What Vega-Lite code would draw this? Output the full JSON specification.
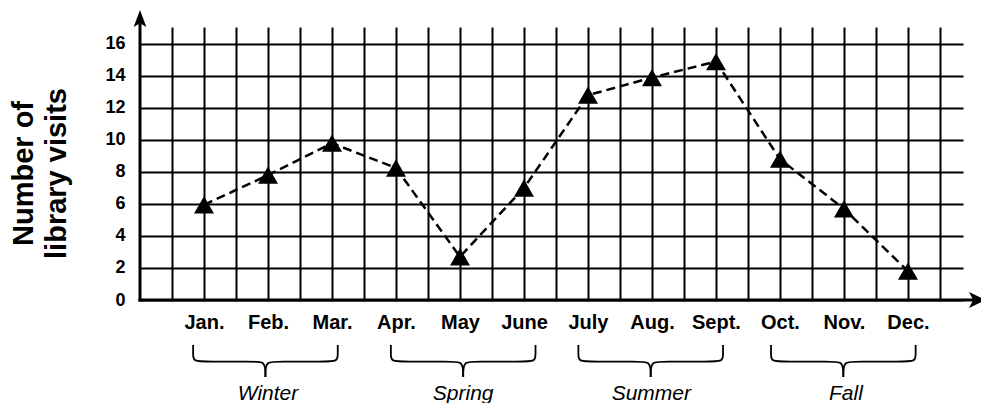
{
  "$schema": "https://vega.github.io/schema/vega-lite/v6.json",
  "width": 823,
  "height": 273,
  "autosize": {"type": "none"},
  "padding": {"left": 140, "top": 27, "right": 18, "bottom": 103},
  "background": "white",
  "config": {
    "view": {"stroke": null},
    "font": "Liberation Sans",
    "axisX": {
      "grid": true, "gridColor": "black", "gridWidth": 2, "gridOpacity": 1,
      "domain": false, "ticks": false, "tickSize": 0,
      "labelFont": "Liberation Sans", "labelFontSize": 20, "labelFontWeight": "bold", "labelColor": "black",
      "labelBaseline": "alphabetic", "labelPadding": 28, "labelOverlap": false, "labelFlush": false, "labelBound": false
    },
    "axisY": {
      "grid": true, "gridColor": "black", "gridWidth": 2, "gridOpacity": 1,
      "domain": false, "ticks": false, "tickSize": 0,
      "labelFont": "Liberation Sans", "labelFontSize": 18, "labelFontWeight": "bold", "labelColor": "black",
      "labelPadding": 15, "labelFlush": false, "labelOverlap": false, "labelBound": false,
      "titleFont": "Liberation Sans", "titleFontSize": 29, "titleFontWeight": "bold", "titleColor": "black",
      "titleAngle": 270, "titleAlign": "center", "titleBaseline": "alphabetic",
      "titleX": -108, "titleY": 146, "titleLineHeight": 33
    }
  },
  "datasets": {
    "visits": [
      {"month": "Jan.", "m": 0, "visits": 5.95},
      {"month": "Feb.", "m": 1, "visits": 7.8},
      {"month": "Mar.", "m": 2, "visits": 9.8},
      {"month": "Apr.", "m": 3, "visits": 8.25},
      {"month": "May", "m": 4, "visits": 2.7},
      {"month": "June", "m": 5, "visits": 7.0},
      {"month": "July", "m": 6, "visits": 12.8},
      {"month": "Aug.", "m": 7, "visits": 13.9},
      {"month": "Sept.", "m": 8, "visits": 14.9},
      {"month": "Oct.", "m": 9, "visits": 8.8},
      {"month": "Nov.", "m": 10, "visits": 5.7},
      {"month": "Dec.", "m": 11, "visits": 1.8}
    ],
    "seasons": [
      {"season": "Winter", "mid": 1.0},
      {"season": "Spring", "mid": 4.05},
      {"season": "Summer", "mid": 6.99},
      {"season": "Fall", "mid": 10.03}
    ],
    "braces": [
      {"b": "WL", "o": 1, "x": -0.17, "y": -2.81},
      {"b": "WL", "o": 2, "x": -0.17, "y": -3.4},
      {"b": "WL", "o": 3, "x": -0.17, "y": -3.85},
      {"b": "WL", "o": 4, "x": 0.05, "y": -3.85},
      {"b": "WL", "o": 5, "x": 0.77, "y": -3.85},
      {"b": "WL", "o": 6, "x": 0.94, "y": -3.85},
      {"b": "WL", "o": 7, "x": 0.96, "y": -4.4},
      {"b": "WL", "o": 8, "x": 0.96, "y": -4.81},
      {"b": "WR", "o": 1, "x": 2.09, "y": -2.81},
      {"b": "WR", "o": 2, "x": 2.09, "y": -3.4},
      {"b": "WR", "o": 3, "x": 2.09, "y": -3.85},
      {"b": "WR", "o": 4, "x": 1.87, "y": -3.85},
      {"b": "WR", "o": 5, "x": 1.15, "y": -3.85},
      {"b": "WR", "o": 6, "x": 0.98, "y": -3.85},
      {"b": "WR", "o": 7, "x": 0.96, "y": -4.4},
      {"b": "WR", "o": 8, "x": 0.96, "y": -4.81},
      {"b": "SpL", "o": 1, "x": 2.92, "y": -2.81},
      {"b": "SpL", "o": 2, "x": 2.92, "y": -3.4},
      {"b": "SpL", "o": 3, "x": 2.92, "y": -3.85},
      {"b": "SpL", "o": 4, "x": 3.14, "y": -3.85},
      {"b": "SpL", "o": 5, "x": 3.86, "y": -3.85},
      {"b": "SpL", "o": 6, "x": 4.03, "y": -3.85},
      {"b": "SpL", "o": 7, "x": 4.05, "y": -4.4},
      {"b": "SpL", "o": 8, "x": 4.05, "y": -4.81},
      {"b": "SpR", "o": 1, "x": 5.18, "y": -2.81},
      {"b": "SpR", "o": 2, "x": 5.18, "y": -3.4},
      {"b": "SpR", "o": 3, "x": 5.18, "y": -3.85},
      {"b": "SpR", "o": 4, "x": 4.96, "y": -3.85},
      {"b": "SpR", "o": 5, "x": 4.24, "y": -3.85},
      {"b": "SpR", "o": 6, "x": 4.07, "y": -3.85},
      {"b": "SpR", "o": 7, "x": 4.05, "y": -4.4},
      {"b": "SpR", "o": 8, "x": 4.05, "y": -4.81},
      {"b": "SuL", "o": 1, "x": 5.85, "y": -2.81},
      {"b": "SuL", "o": 2, "x": 5.85, "y": -3.4},
      {"b": "SuL", "o": 3, "x": 5.85, "y": -3.85},
      {"b": "SuL", "o": 4, "x": 6.07, "y": -3.85},
      {"b": "SuL", "o": 5, "x": 6.79, "y": -3.85},
      {"b": "SuL", "o": 6, "x": 6.96, "y": -3.85},
      {"b": "SuL", "o": 7, "x": 6.98, "y": -4.4},
      {"b": "SuL", "o": 8, "x": 6.98, "y": -4.81},
      {"b": "SuR", "o": 1, "x": 8.11, "y": -2.81},
      {"b": "SuR", "o": 2, "x": 8.11, "y": -3.4},
      {"b": "SuR", "o": 3, "x": 8.11, "y": -3.85},
      {"b": "SuR", "o": 4, "x": 7.89, "y": -3.85},
      {"b": "SuR", "o": 5, "x": 7.17, "y": -3.85},
      {"b": "SuR", "o": 6, "x": 7.0, "y": -3.85},
      {"b": "SuR", "o": 7, "x": 6.98, "y": -4.4},
      {"b": "SuR", "o": 8, "x": 6.98, "y": -4.81},
      {"b": "FL", "o": 1, "x": 8.86, "y": -2.81},
      {"b": "FL", "o": 2, "x": 8.86, "y": -3.4},
      {"b": "FL", "o": 3, "x": 8.86, "y": -3.85},
      {"b": "FL", "o": 4, "x": 9.08, "y": -3.85},
      {"b": "FL", "o": 5, "x": 9.8, "y": -3.85},
      {"b": "FL", "o": 6, "x": 9.97, "y": -3.85},
      {"b": "FL", "o": 7, "x": 9.99, "y": -4.4},
      {"b": "FL", "o": 8, "x": 9.99, "y": -4.81},
      {"b": "FR", "o": 1, "x": 11.12, "y": -2.81},
      {"b": "FR", "o": 2, "x": 11.12, "y": -3.4},
      {"b": "FR", "o": 3, "x": 11.12, "y": -3.85},
      {"b": "FR", "o": 4, "x": 10.9, "y": -3.85},
      {"b": "FR", "o": 5, "x": 10.18, "y": -3.85},
      {"b": "FR", "o": 6, "x": 10.01, "y": -3.85},
      {"b": "FR", "o": 7, "x": 9.99, "y": -4.4},
      {"b": "FR", "o": 8, "x": 9.99, "y": -4.81}
    ],
    "one": [{}]
  },
  "layer": [
    {
      "data": {"name": "visits"},
      "mark": {"type": "line", "color": "black", "strokeWidth": 2.5, "strokeDash": [9, 5], "clip": false},
      "encoding": {
        "x": {
          "field": "m", "type": "quantitative",
          "scale": {"domain": [-1, 11.86], "nice": false, "zero": false},
          "axis": {
            "title": null,
            "values": [-0.5, 0, 0.5, 1, 1.5, 2, 2.5, 3, 3.5, 4, 4.5, 5, 5.5, 6, 6.5, 7, 7.5, 8, 8.5, 9, 9.5, 10, 10.5, 11, 11.5],
            "labelExpr": "datum.value % 1 == 0 ? ['Jan.','Feb.','Mar.','Apr.','May','June','July','Aug.','Sept.','Oct.','Nov.','Dec.'][datum.value] : ''"
          }
        },
        "y": {
          "field": "visits", "type": "quantitative",
          "scale": {"domain": [0, 17.06], "nice": false, "zero": false},
          "axis": {
            "values": [0, 2, 4, 6, 8, 10, 12, 14, 16],
            "title": ["Number of", "library visits"]
          }
        }
      }
    },
    {
      "data": {"name": "visits"},
      "mark": {"type": "point", "shape": "triangle-up", "size": 400, "filled": true, "color": "black", "opacity": 1, "clip": false},
      "encoding": {
        "x": {"field": "m", "type": "quantitative", "axis": {"title": null, "values": [-0.5, 0, 0.5, 1, 1.5, 2, 2.5, 3, 3.5, 4, 4.5, 5, 5.5, 6, 6.5, 7, 7.5, 8, 8.5, 9, 9.5, 10, 10.5, 11, 11.5], "labelExpr": "datum.value % 1 == 0 ? ['Jan.','Feb.','Mar.','Apr.','May','June','July','Aug.','Sept.','Oct.','Nov.','Dec.'][datum.value] : ''"}},
        "y": {"field": "visits", "type": "quantitative", "axis": {"values": [0, 2, 4, 6, 8, 10, 12, 14, 16], "title": ["Number of", "library visits"]}}
      }
    },
    {
      "data": {"name": "braces"},
      "mark": {"type": "line", "color": "black", "strokeWidth": 1.8, "interpolate": "basis", "clip": false},
      "encoding": {
        "x": {"field": "x", "type": "quantitative", "axis": {"title": null, "values": [-0.5, 0, 0.5, 1, 1.5, 2, 2.5, 3, 3.5, 4, 4.5, 5, 5.5, 6, 6.5, 7, 7.5, 8, 8.5, 9, 9.5, 10, 10.5, 11, 11.5], "labelExpr": "datum.value % 1 == 0 ? ['Jan.','Feb.','Mar.','Apr.','May','June','July','Aug.','Sept.','Oct.','Nov.','Dec.'][datum.value] : ''"}},
        "y": {"field": "y", "type": "quantitative", "axis": {"values": [0, 2, 4, 6, 8, 10, 12, 14, 16], "title": ["Number of", "library visits"]}},
        "detail": {"field": "b"},
        "order": {"field": "o", "type": "quantitative"}
      }
    },
    {
      "data": {"name": "seasons"},
      "mark": {"type": "text", "font": "Liberation Sans", "fontSize": 21, "fontStyle": "italic", "color": "black", "align": "center", "baseline": "alphabetic", "clip": false},
      "encoding": {
        "x": {"field": "mid", "type": "quantitative", "axis": {"title": null, "values": [-0.5, 0, 0.5, 1, 1.5, 2, 2.5, 3, 3.5, 4, 4.5, 5, 5.5, 6, 6.5, 7, 7.5, 8, 8.5, 9, 9.5, 10, 10.5, 11, 11.5], "labelExpr": "datum.value % 1 == 0 ? ['Jan.','Feb.','Mar.','Apr.','May','June','July','Aug.','Sept.','Oct.','Nov.','Dec.'][datum.value] : ''"}},
        "y": {"datum": -6.22, "type": "quantitative", "axis": {"values": [0, 2, 4, 6, 8, 10, 12, 14, 16], "title": ["Number of", "library visits"]}},
        "text": {"field": "season"}
      }
    },
    {
      "data": {"name": "one"},
      "mark": {"type": "rule", "color": "black", "strokeWidth": 3, "clip": false},
      "encoding": {
        "x": {"datum": -1.025, "type": "quantitative", "axis": {"title": null, "values": [-0.5, 0, 0.5, 1, 1.5, 2, 2.5, 3, 3.5, 4, 4.5, 5, 5.5, 6, 6.5, 7, 7.5, 8, 8.5, 9, 9.5, 10, 10.5, 11, 11.5], "labelExpr": "datum.value % 1 == 0 ? ['Jan.','Feb.','Mar.','Apr.','May','June','July','Aug.','Sept.','Oct.','Nov.','Dec.'][datum.value] : ''"}},
        "x2": {"datum": 12.05},
        "y": {"datum": 0, "type": "quantitative", "axis": {"values": [0, 2, 4, 6, 8, 10, 12, 14, 16], "title": ["Number of", "library visits"]}}
      }
    },
    {
      "data": {"name": "one"},
      "mark": {"type": "rule", "color": "black", "strokeWidth": 3, "clip": false},
      "encoding": {
        "x": {"datum": -1, "type": "quantitative", "axis": {"title": null, "values": [-0.5, 0, 0.5, 1, 1.5, 2, 2.5, 3, 3.5, 4, 4.5, 5, 5.5, 6, 6.5, 7, 7.5, 8, 8.5, 9, 9.5, 10, 10.5, 11, 11.5], "labelExpr": "datum.value % 1 == 0 ? ['Jan.','Feb.','Mar.','Apr.','May','June','July','Aug.','Sept.','Oct.','Nov.','Dec.'][datum.value] : ''"}},
        "y": {"datum": -0.09, "type": "quantitative", "axis": {"values": [0, 2, 4, 6, 8, 10, 12, 14, 16], "title": ["Number of", "library visits"]}},
        "y2": {"datum": 17.3}
      }
    },
    {
      "data": {"name": "one"},
      "mark": {"type": "point", "shape": "M0,-1L0.75,1L0,0.55L-0.75,1Z", "size": 289, "filled": true, "color": "black", "opacity": 1, "strokeWidth": 0, "clip": false},
      "encoding": {
        "x": {"datum": -1, "type": "quantitative", "axis": {"title": null, "values": [-0.5, 0, 0.5, 1, 1.5, 2, 2.5, 3, 3.5, 4, 4.5, 5, 5.5, 6, 6.5, 7, 7.5, 8, 8.5, 9, 9.5, 10, 10.5, 11, 11.5], "labelExpr": "datum.value % 1 == 0 ? ['Jan.','Feb.','Mar.','Apr.','May','June','July','Aug.','Sept.','Oct.','Nov.','Dec.'][datum.value] : ''"}},
        "y": {"datum": 17.59, "type": "quantitative", "axis": {"values": [0, 2, 4, 6, 8, 10, 12, 14, 16], "title": ["Number of", "library visits"]}}
      }
    },
    {
      "data": {"name": "one"},
      "mark": {"type": "point", "shape": "M1,0L-1,0.94L-0.5,0L-1,-0.94Z", "size": 289, "filled": true, "color": "black", "opacity": 1, "strokeWidth": 0, "clip": false},
      "encoding": {
        "x": {"datum": 12.086, "type": "quantitative", "axis": {"title": null, "values": [-0.5, 0, 0.5, 1, 1.5, 2, 2.5, 3, 3.5, 4, 4.5, 5, 5.5, 6, 6.5, 7, 7.5, 8, 8.5, 9, 9.5, 10, 10.5, 11, 11.5], "labelExpr": "datum.value % 1 == 0 ? ['Jan.','Feb.','Mar.','Apr.','May','June','July','Aug.','Sept.','Oct.','Nov.','Dec.'][datum.value] : ''"}},
        "y": {"datum": 0, "type": "quantitative", "axis": {"values": [0, 2, 4, 6, 8, 10, 12, 14, 16], "title": ["Number of", "library visits"]}}
      }
    }
  ]
}
